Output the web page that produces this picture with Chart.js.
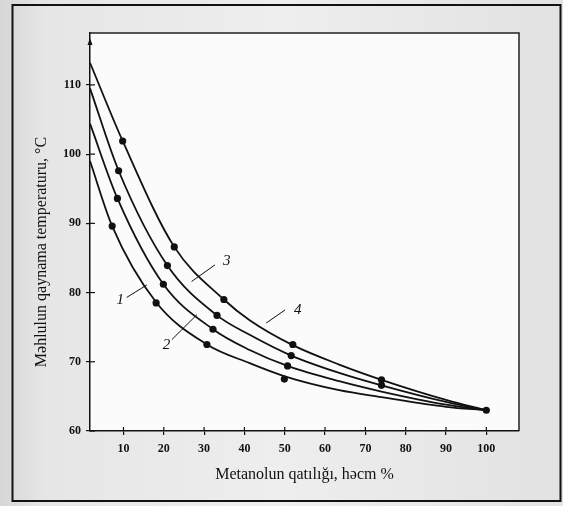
<!DOCTYPE html>
<html>
<head>
<meta charset="utf-8">
<script src="https://cdn.jsdelivr.net/npm/chart.js@4.4.1/dist/chart.umd.min.js"></script>
<style>
  html, body { margin: 0; padding: 0; background: #e4e4e4; }
  #wrap { width: 563px; height: 506px; }
</style>
</head>
<body>
<div id="wrap"><canvas id="chart" width="563" height="506"></canvas></div>
<script>
// Tick labels
const xTicks = [10, 20, 30, 40, 50, 60, 70, 80, 90, 100];
const yTicks = [60, 70, 80, 90, 100, 110];

// Smooth curves
const curveX1 = [1.7, 7.2, 18.1, 30.7, 41.3, 50, 63.5, 74, 90, 100];
const curveY1 = [99.0, 89.6, 78.6, 72.5, 69.8, 67.9, 65.9, 64.9, 63.5, 63];
const curveX2 = [1.7, 8.5, 19.9, 32.2, 41.3, 50.7, 63.5, 74, 90, 100];
const curveY2 = [104.4, 93.6, 81.2, 74.7, 71.7, 69.4, 67.2, 65.7, 63.8, 63];
const curveX3 = [1.7, 8.8, 20.9, 33.2, 41.3, 51.6, 63.5, 74, 90, 100];
const curveY3 = [109.5, 97.6, 83.9, 76.7, 73.9, 70.9, 68.4, 66.6, 64.2, 63];
const curveX4 = [1.7, 9.8, 22.6, 34.9, 41.3, 52, 63.5, 74, 90, 100];
const curveY4 = [113.2, 101.9, 86.6, 79.0, 76.0, 72.4, 69.6, 67.4, 64.5, 63];

// Measured points
const pointsX1 = [7.2, 18.1, 30.7, 49.9, 100];
const pointsY1 = [89.6, 78.5, 72.5, 67.5, 63];
const pointsX2 = [8.5, 19.9, 32.2, 50.7];
const pointsY2 = [93.6, 81.2, 74.7, 69.4];
const pointsX3 = [8.8, 20.9, 33.2, 51.6, 74];
const pointsY3 = [97.6, 83.9, 76.7, 70.9, 66.6];
const pointsX4 = [9.8, 22.6, 34.9, 52, 74];
const pointsY4 = [101.9, 86.6, 79.0, 72.5, 67.4];

const curveNames = ['1', '2', '3', '4'];

const toXY = (xs, ys) => xs.map((x, i) => ({ x: x, y: ys[i] }));

const curves = [[curveX1, curveY1], [curveX2, curveY2], [curveX3, curveY3], [curveX4, curveY4]];
const points = [[pointsX1, pointsY1], [pointsX2, pointsY2], [pointsX3, pointsY3], [pointsX4, pointsY4]];

// Curve number labels with their leader lines (data units)
const curveLabels = [
    { text: curveNames[0], at: [9.2, 78.9], from: [10.8, 79.3], to: [15.8, 81.1] },
    { text: curveNames[1], at: [20.7, 72.4], from: [22.0, 73.2], to: [28.2, 76.8] },
    { text: curveNames[2], at: [35.6, 84.6], from: [26.9, 81.6], to: [32.7, 84.0] },
    { text: curveNames[3], at: [53.2, 77.5], from: [45.4, 75.6], to: [50.1, 77.5] }
];

const datasets = [];
curves.forEach(c => {
    datasets.push({
        data: toXY(c[0], c[1]),
        showLine: true,
        borderColor: '#111',
        borderWidth: 1.8,
        pointRadius: 0,
        cubicInterpolationMode: 'monotone',
        fill: false
    });
});
points.forEach(p => {
    datasets.push({
        data: toXY(p[0], p[1]),
        showLine: false,
        pointRadius: 3.6,
        pointBackgroundColor: '#111',
        pointBorderColor: '#111',
        pointBorderWidth: 0
    });
});

// Scanned page look: gray page, white sheet, frames
const pagePlugin = {
    id: 'page',
    beforeDraw(chart) {
        const { ctx, chartArea: a } = chart;
        ctx.save();
        const g = ctx.createLinearGradient(0, 0, 563, 0);
        g.addColorStop(0, '#d6d6d6');
        g.addColorStop(0.08, '#e6e6e6');
        g.addColorStop(0.5, '#eeeeee');
        g.addColorStop(1, '#e2e2e2');
        ctx.fillStyle = g;
        ctx.fillRect(0, 0, 563, 506);
        ctx.fillStyle = '#fbfbfb';
        ctx.fillRect(a.left, a.top, a.right - a.left, a.bottom - a.top);
        ctx.strokeStyle = '#222';
        ctx.lineWidth = 1.5;
        ctx.beginPath();
        ctx.moveTo(a.left, a.top);
        ctx.lineTo(a.right, a.top);
        ctx.lineTo(a.right, a.bottom);
        ctx.stroke();
        ctx.strokeStyle = '#111';
        ctx.lineWidth = 2;
        ctx.strokeRect(12.5, 5, 548, 496);
        ctx.restore();
    },
    afterDraw(chart) {
        const { ctx, chartArea: a, scales } = chart;
        const xs = scales.x, ys = scales.y;
        ctx.save();
        ctx.strokeStyle = '#111';
        ctx.lineWidth = 1.2;
        // inner half of the crossing ticks
        xTicks.forEach(v => {
            const px = xs.getPixelForValue(v);
            ctx.beginPath();
            ctx.moveTo(px, a.bottom);
            ctx.lineTo(px, a.bottom - 4);
            ctx.stroke();
        });
        yTicks.forEach(v => {
            const py = ys.getPixelForValue(v);
            ctx.beginPath();
            ctx.moveTo(a.left, py);
            ctx.lineTo(a.left + 5, py);
            ctx.stroke();
        });
        // arrow at top of y axis
        ctx.fillStyle = '#111';
        ctx.beginPath();
        ctx.moveTo(a.left, a.top + 5);
        ctx.lineTo(a.left - 2.5, a.top + 12);
        ctx.lineTo(a.left + 2.5, a.top + 12);
        ctx.closePath();
        ctx.fill();

        // curve labels
        ctx.lineWidth = 1;
        ctx.font = 'italic 15px "Liberation Serif"';
        ctx.textAlign = 'center';
        ctx.textBaseline = 'middle';
        curveLabels.forEach(l => {
            ctx.beginPath();
            ctx.moveTo(xs.getPixelForValue(l.from[0]), ys.getPixelForValue(l.from[1]));
            ctx.lineTo(xs.getPixelForValue(l.to[0]), ys.getPixelForValue(l.to[1]));
            ctx.stroke();
            ctx.fillText(l.text, xs.getPixelForValue(l.at[0]), ys.getPixelForValue(l.at[1]));
        });

        // y axis title
        ctx.font = '16px "Liberation Serif"';
        ctx.translate(42, 252);
        ctx.rotate(-Math.PI / 2);
        ctx.fillText('Məhlulun qaynama temperaturu, °C', 0, 0);
        ctx.restore();
    }
};

const tickFont = { family: '"Liberation Serif"', size: 12, weight: 'bold' };

new Chart(document.getElementById('chart'), {
    type: 'scatter',
    data: { datasets: datasets },
    options: {
        responsive: false,
        animation: false,
        layout: { padding: { top: 33, right: 44, left: 0, bottom: 0 } },
        plugins: {
            legend: { display: false },
            tooltip: { enabled: false }
        },
        scales: {
            x: {
                type: 'linear',
                min: 1.7,
                max: 108.1,
                afterBuildTicks: s => { s.ticks = xTicks.map(v => ({ value: v })); },
                afterFit: s => { s.height = 75; },
                grid: { drawOnChartArea: false, color: '#111', lineWidth: 1.2, tickLength: 4 },
                border: { color: '#111', width: 1.5 },
                ticks: { color: '#111', font: tickFont, padding: 7, maxRotation: 0 },
                title: {
                    display: true,
                    text: 'Metanolun qatılığı, həcm %',
                    color: '#111',
                    font: { family: '"Liberation Serif"', size: 16 },
                    padding: { top: 0, bottom: 22 }
                }
            },
            y: {
                type: 'linear',
                min: 60,
                max: 117.5,
                afterBuildTicks: s => { s.ticks = yTicks.map(v => ({ value: v })); },
                afterFit: s => { s.width = 90; },
                grid: { drawOnChartArea: false, color: '#111', lineWidth: 1.2, tickLength: 4 },
                border: { color: '#111', width: 1.5 },
                ticks: { color: '#111', font: tickFont, padding: 5 }
            }
        }
    },
    plugins: [pagePlugin]
});
</script>
</body>
</html>
